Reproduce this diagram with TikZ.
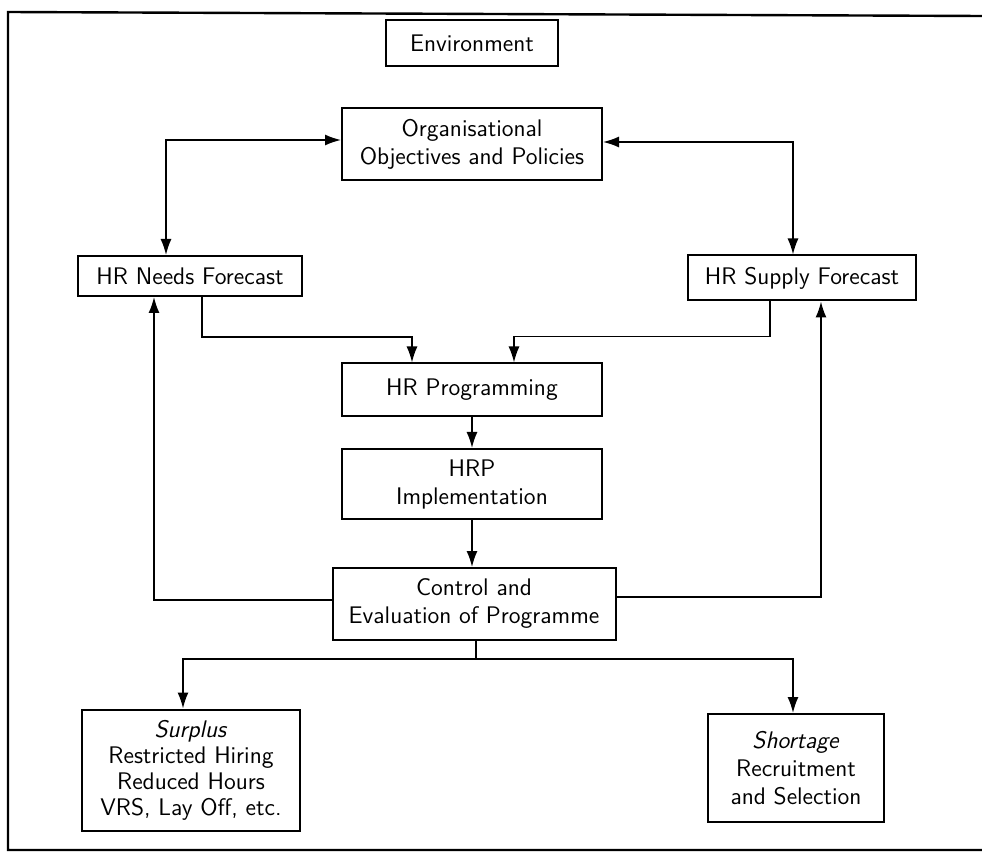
\documentclass[tikz,border=0pt]{standalone}
\usepackage{tikz}
\usetikzlibrary{arrows.meta}

\tikzset{
  box/.style={draw, line width=1pt, align=center, font=\sffamily\fontsize{12}{14}\selectfont, inner sep=2pt},
  link/.style={line width=0.8pt, -{Latex[length=8pt,width=5.5pt]}},
  linkboth/.style={line width=0.8pt, {Latex[length=8pt,width=5.5pt]}-{Latex[length=8pt,width=5.5pt]}}
}

\begin{document}
\begin{tikzpicture}[x=0.5pt, y=-0.5pt]
\useasboundingbox (0,0) rectangle (982,856);
\draw[line width=1.2pt] (982,16) -- (8,12) -- (8,850) -- (982,850);

\node[box, minimum width=86pt, minimum height=23pt] (env) at (472,43) {Environment};
\node[box, minimum width=130pt, minimum height=36pt] (org) at (472,144) {Organisational\\Objectives and Policies};
\node[box, minimum width=112pt, minimum height=20pt] (needs) at (190,276) {HR Needs Forecast};
\node[box, minimum width=114pt, minimum height=22.5pt] (supply) at (802,278) {HR Supply Forecast};
\node[box, minimum width=130pt, minimum height=26.5pt] (prog) at (472,390) {HR Programming};
\node[box, minimum width=130pt, minimum height=35pt] (impl) at (472,484) {HRP\\Implementation};
\node[box, minimum width=141.5pt, minimum height=36pt] (ctrl) at (474,604) {Control and\\Evaluation of Programme};
\node[box, minimum width=109pt, minimum height=60.5pt, font=\sffamily\fontsize{12}{13}\selectfont] (surplus) at (191,770) {\textit{Surplus}\\Restricted Hiring\\Reduced Hours\\VRS, Lay Off, etc.};
\node[box, minimum width=88pt, minimum height=54pt] (shortage) at (796,768) {\textit{Shortage}\\Recruitment\\and Selection};

% objectives and forecasts
\draw[linkboth] ([xshift=-12pt]needs.north) |- ([yshift=2pt]org.west);
\draw[linkboth] ([xshift=-4.5pt]supply.north) |- ([yshift=1pt]org.east);

% forecasts into programming
\draw[link] ([xshift=6pt]needs.south) -- ++(0,40) -| ([xshift=-30pt]prog.north);
\draw[link] ([xshift=-16pt]supply.south) -- ++(0,35) -| ([xshift=21pt]prog.north);

\draw[link] (prog) -- (impl);
\draw[link] (impl) -- (impl |- ctrl.north);

% feedback
\draw[link] ([yshift=2pt]ctrl.west) -| ([xshift=-18pt]needs.south);
\draw[link] ([yshift=3.5pt]ctrl.east) -| ([xshift=9.5pt]supply.south);

% outcomes
\draw[line width=0.8pt] ([xshift=1pt]ctrl.south) -- ++(0,18) coordinate (split);
\draw[link] (split) -| ([xshift=-4pt]surplus.north);
\draw[link] (split) -| ([xshift=-1.5pt]shortage.north);
\end{tikzpicture}
\end{document}
